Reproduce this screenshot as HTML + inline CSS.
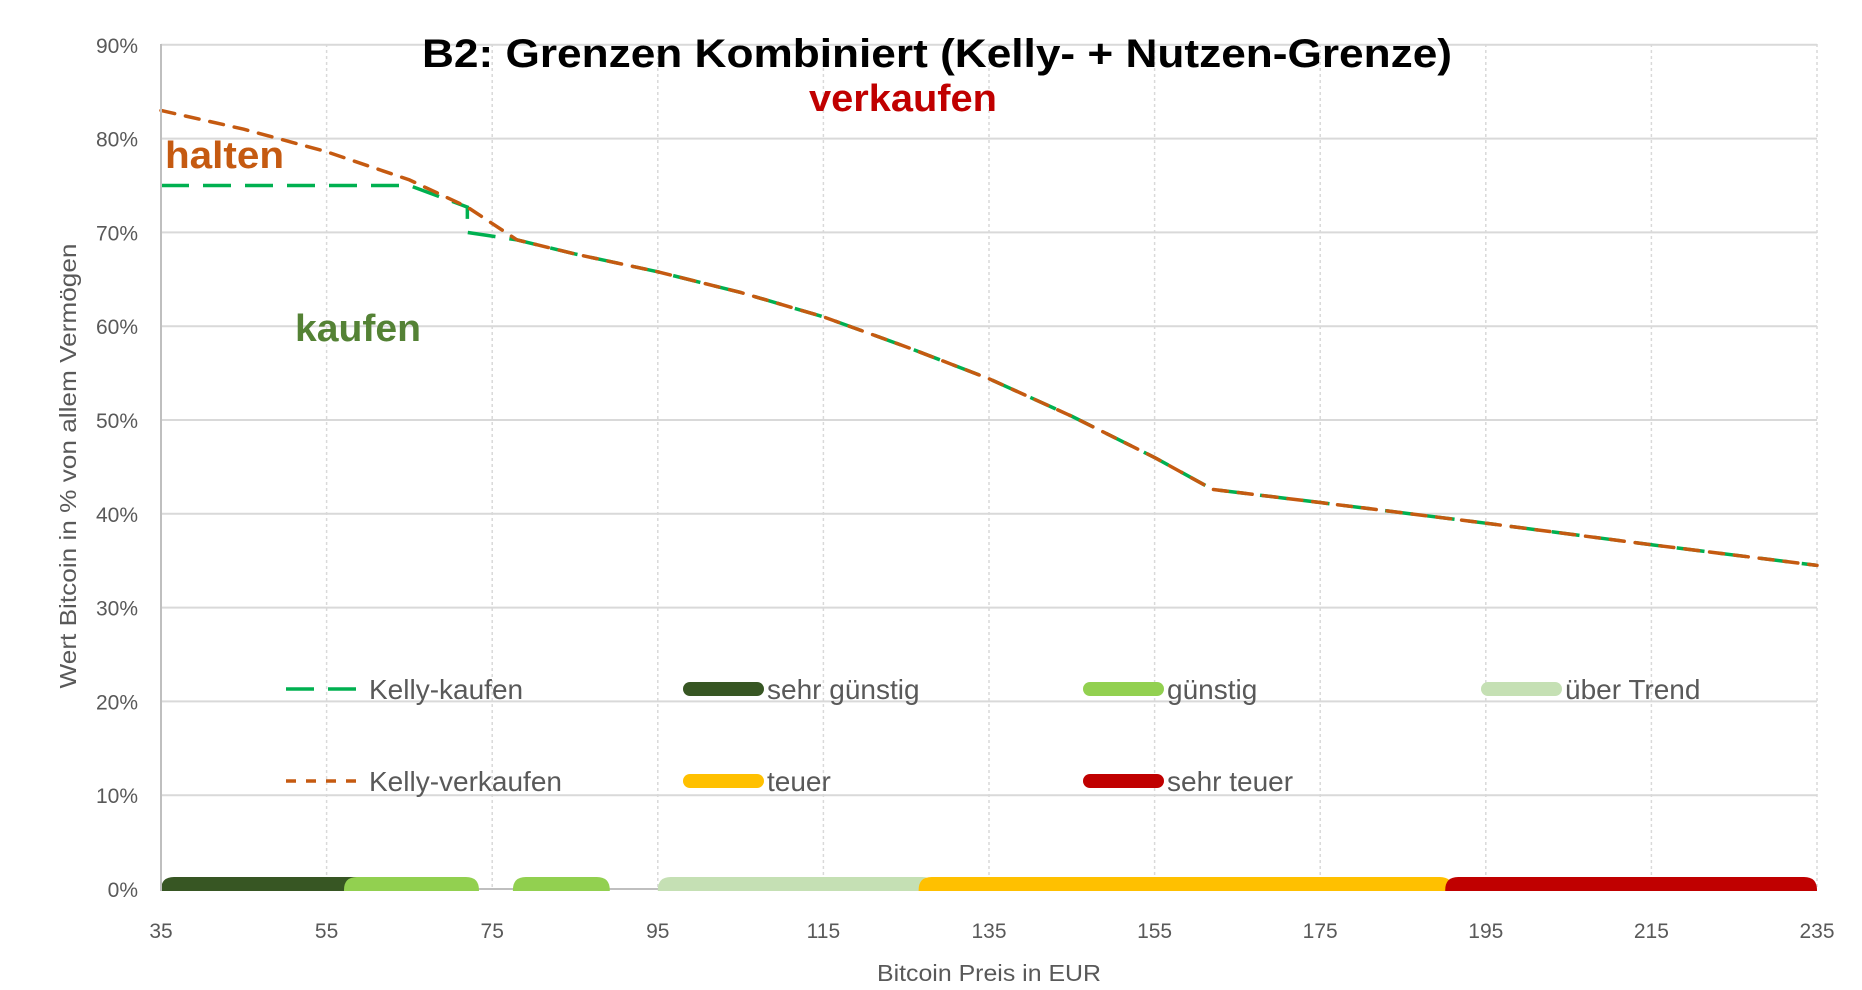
<!DOCTYPE html>
<html><head><meta charset="utf-8"><style>
body{margin:0;background:#fff}
svg{display:block;font-family:"Liberation Sans",Carlito,sans-serif}
</style></head><body>
<svg id="chart" width="1862" height="990" viewBox="0 0 1862 990" xmlns="http://www.w3.org/2000/svg">
<defs><clipPath id="pc"><rect x="161" y="40" width="1656" height="851"/></clipPath></defs>
<g id="grid"></g>
<g id="bands" clip-path="url(#pc)"></g>
<g id="lines"></g>
<g id="axes"></g>
<text x="937" y="67" text-anchor="middle" font-size="40" font-weight="bold" fill="#000" textLength="1030" lengthAdjust="spacingAndGlyphs">B2: Grenzen Kombiniert (Kelly- + Nutzen-Grenze)</text>
<text x="903" y="111" text-anchor="middle" font-size="38" font-weight="bold" fill="#C00000" textLength="188" lengthAdjust="spacingAndGlyphs">verkaufen</text>
<text x="165" y="168" font-size="38" font-weight="bold" fill="#C55A11" textLength="119" lengthAdjust="spacingAndGlyphs">halten</text>
<text x="295" y="341" font-size="38" font-weight="bold" fill="#548235" textLength="126" lengthAdjust="spacingAndGlyphs">kaufen</text>
<text transform="translate(76,466) rotate(-90)" text-anchor="middle" font-size="23" fill="#595959" textLength="445" lengthAdjust="spacingAndGlyphs">Wert Bitcoin in % von allem Vermögen</text>
<text x="989" y="981" text-anchor="middle" font-size="23" fill="#595959" textLength="224" lengthAdjust="spacingAndGlyphs">Bitcoin Preis in EUR</text>
<g id="legend"></g>
</svg>
<script>
const xTicks=[35,55,75,95,115,135,155,175,195,215,235];
const yTicks=[0,10,20,30,40,50,60,70,80,90];
const kaufX=[35,65,72,72,78,85,95,105,115,125,135,145,155,162,175,195,215,235];
const kaufY=[75,75,72.7,70,69.2,67.7,65.8,63.6,61,57.8,54.4,50.4,46,42.6,41.2,39,36.7,34.5];
const verkX=[35,45,55,65,72,78,85,95,105,115,125,135,145,155,162,175,195,215,235];
const verkY=[83,81,78.6,75.6,72.7,69.2,67.7,65.8,63.6,61,57.8,54.4,50.4,46,42.6,41.2,39,36.7,34.5];
const bandNames=["sehr günstig","günstig","günstig","über Trend","teuer","sehr teuer"];
const bandStart=[35,57.1,77.5,95.0,126.5,190.1];
const bandEnd=[60,73.4,89.2,128.5,191,235];
const bandColors=["#375623","#92D050","#92D050","#C5E0B4","#FFC000","#C00000"];
const X=v=>161+(v-35)*8.28, Y=v=>889-v*9.38;
const NS="http://www.w3.org/2000/svg";
function mk(t,a,p){const e=document.createElementNS(NS,t);for(const k in a)e.setAttribute(k,a[k]);p.appendChild(e);return e;}
const grid=document.getElementById('grid'),axes=document.getElementById('axes');
yTicks.forEach(v=>{if(v>0){const l=mk('line',{x1:161,x2:1817,y1:Y(v),y2:Y(v),stroke:'#d9d9d9','stroke-width':2},grid);}
 const t=mk('text',{x:138,y:Y(v)+8,'text-anchor':'end','font-size':21,fill:'#595959'},axes);t.textContent=v+'%';});
xTicks.forEach(v=>{if(v>35){const l=mk('line',{x1:X(v),x2:X(v),y1:44,y2:889,stroke:'#d9d9d9','stroke-width':1.5,'stroke-dasharray':'3,3'},grid);}
 const t=mk('text',{x:X(v),y:938,'text-anchor':'middle','font-size':21,fill:'#595959'},axes);t.textContent=v;});
const ya=mk('line',{x1:161,x2:161,y1:44,y2:891,stroke:'#bfbfbf','stroke-width':2},axes);
const xa=mk('line',{x1:161,x2:1817,y1:889,y2:889,stroke:'#bfbfbf','stroke-width':2},grid);
const bands=document.getElementById('bands');
bandStart.forEach((s,i)=>{const x0=X(s),x1=X(bandEnd[i]),top=877,bot=892,r=13;
 const p=mk('path',{d:`M${x0},${bot} L${x0},${top+r} Q${x0},${top} ${x0+r},${top} L${x1-r},${top} Q${x1},${top} ${x1},${top+r} L${x1},${bot} Z`,fill:bandColors[i]},bands);
 });
const lines=document.getElementById('lines');
const pk=mk('polyline',{points:kaufX.map((x,i)=>X(x)+','+Y(kaufY[i])).join(' '),fill:'none',stroke:'#00B050','stroke-width':3.5,'stroke-dasharray':'28,14'},lines);

const pv=mk('polyline',{points:verkX.map((x,i)=>X(x)+','+Y(verkY[i])).join(' '),fill:'none',stroke:'#C55A11','stroke-width':3.5,'stroke-dasharray':'14,11','stroke-linecap':'round'},lines);

const lg=document.getElementById('legend');
const items=[["Kelly-kaufen",'dash','#00B050',286,689],["sehr günstig",'bar','#375623',683,689],["günstig",'bar','#92D050',1083,689],["über Trend",'bar','#C5E0B4',1481,689],
 ["Kelly-verkaufen",'dot','#C55A11',286,781],["teuer",'bar','#FFC000',683,781],["sehr teuer",'bar','#C00000',1083,781]];
items.forEach(it=>{const [n,k,c,x,y]=it;const g=mk('g',{},lg);
 if(k==='bar')mk('line',{x1:x+7,x2:x+74,y1:y,y2:y,stroke:c,'stroke-width':14,'stroke-linecap':'round'},g);
 else if(k==='dash')mk('line',{x1:x,x2:x+74,y1:y,y2:y,stroke:c,'stroke-width':3.5,'stroke-dasharray':'28,14'},g);
 else mk('line',{x1:x,x2:x+74,y1:y,y2:y,stroke:c,'stroke-width':3.5,'stroke-dasharray':'10,10'},g);
 const t=mk('text',{x:x+(k==='bar'?84:83),y:y+10,'font-size':28,fill:'#595959'},g);t.textContent=n;});
</script>
</body></html>
